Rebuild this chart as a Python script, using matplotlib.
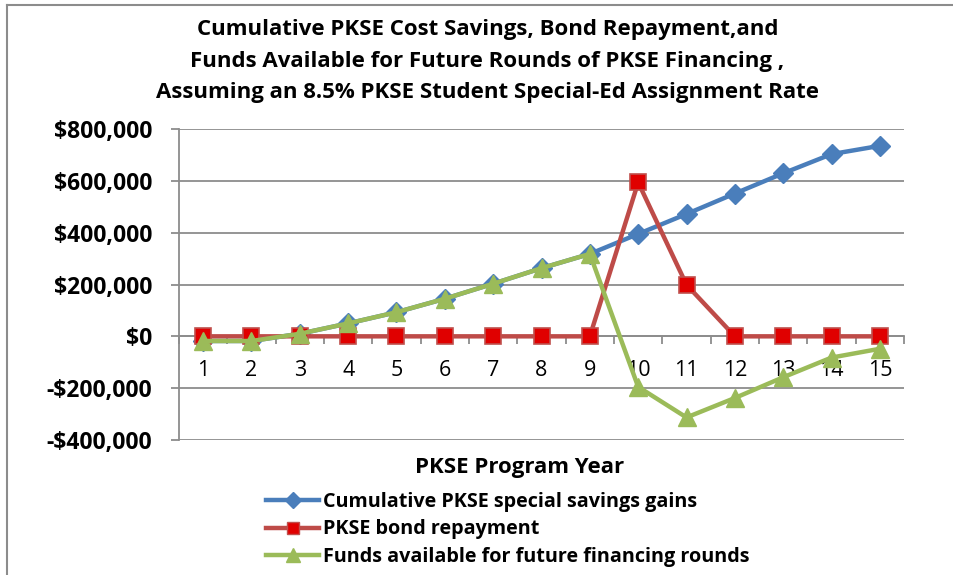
import matplotlib
matplotlib.use("Agg")
import matplotlib.pyplot as plt
from matplotlib.lines import Line2D
from matplotlib.ticker import FuncFormatter

years = list(range(1, 16))
savings = [-18000, -18000, 10000, 50000, 93000, 145000, 203000, 263000, 318000,
           395000, 472000, 551000, 629000, 703000, 735000]
bond = [0, 0, 0, 0, 0, 0, 0, 0, 0, 594000, 199000, 0, 0, 0, 0]
funds = [-18000, -18000, 10000, 50000, 93000, 145000, 203000, 263000, 318000,
         -195000, -313000, -238000, -158000, -82000, -48000]

title = ("Cumulative PKSE Cost Savings, Bond Repayment,and\n"
         "Funds Available for Future Rounds of PKSE Financing ,\n"
         "Assuming an 8.5% PKSE Student Special-Ed Assignment Rate")
labels = ["Cumulative PKSE special savings gains", "PKSE bond repayment",
          "Funds available for future financing rounds"]

plt.rcParams['font.family'] = ['Open Sans', 'DejaVu Sans']

fig = plt.figure(figsize=(9.54, 5.75), dpi=100)
ax = fig.add_axes([179/954, 1-440/575, 725/954, 311/575])

grid_c = '#8c8c8c'
ax.plot(years, savings, color='#4a7ebb', lw=3.2, marker='D', ms=10,
        mfc='#4a7ebb', mec='#4a7ebb', zorder=3, label=labels[0])
ax.plot(years, bond, color='#be4b48', lw=3.2, marker='s', ms=12,
        mfc='#e00000', mec='#c0504d', mew=1.2, zorder=4, label=labels[1])
ax.plot(years, funds, color='#9bbb59', lw=3.2, marker='^', ms=13,
        mfc='#9bbb59', mec='#9bbb59', zorder=5, label=labels[2])

ax.set_xlim(0.5, 15.5)
ax.set_ylim(-400000, 800000)
ax.set_yticks(range(-400000, 800001, 200000))
ax.yaxis.set_major_formatter(FuncFormatter(
    lambda v, p: ("-$" if v < 0 else "$") + f"{abs(int(v)):,}"))
ax.grid(axis='y', color=grid_c, lw=1.3)
ax.set_axisbelow(True)
for s in ['top', 'right']:
    ax.spines[s].set_visible(False)
ax.spines['left'].set_color(grid_c)
ax.spines['left'].set_linewidth(1.3)
ax.spines['bottom'].set_position(('data', 0))
ax.spines['bottom'].set_color(grid_c)
ax.spines['bottom'].set_linewidth(1.3)

ax.set_xticks(years)
ax.set_xticklabels([str(y) for y in years], fontsize=15.5)
ax.set_xticks([x + 0.5 for x in range(0, 16)], minor=True)
ax.tick_params(axis='x', which='major', length=0, pad=17)
ax.tick_params(axis='x', which='minor', length=6, color=grid_c, width=1.3)
ax.tick_params(axis='y', length=6, color=grid_c, width=1.3, pad=13.5)
for t in ax.get_yticklabels():
    t.set_fontsize(16.5)
    t.set_fontweight('bold')

fig.text(0.511, 1-19/575, title, ha='center', va='top', fontsize=16,
         fontweight='bold', linespacing=1.66)
fig.text(520/954, 1-468/575, "PKSE Program Year", ha='center', va='center',
         fontsize=16, fontweight='bold')

handles = [Line2D([], [], color='#4a7ebb', lw=3.2, marker='D', ms=8, mfc='#4a7ebb', mec='#4a7ebb'),
           Line2D([], [], color='#be4b48', lw=3.2, marker='s', ms=9, mfc='#e00000', mec='#c0504d'),
           Line2D([], [], color='#9bbb59', lw=3.2, marker='^', ms=10, mfc='#9bbb59', mec='#9bbb59')]
leg = fig.legend(handles, labels, loc='upper left', bbox_to_anchor=(266/954, 1-492/575),
                 frameon=False, prop={'weight': 'bold', 'size': 14.2}, handlelength=2.7,
                 handletextpad=0.2, labelspacing=0.38, borderpad=0, borderaxespad=0)

fig.add_artist(Line2D([7/954, 7/954], [0, 1-5/575], color='#8c8c8c', lw=1.5,
                      transform=fig.transFigure))
fig.add_artist(Line2D([7/954, 1], [1-5/575, 1-5/575], color='#8c8c8c', lw=1.5,
                      transform=fig.transFigure))

fig.savefig("out.png", dpi=100)
